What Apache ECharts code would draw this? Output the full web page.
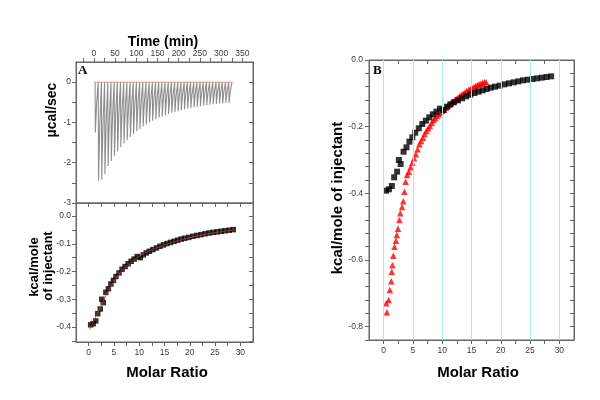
<!DOCTYPE html>
<html><head><meta charset="utf-8">
<script src="https://cdn.jsdelivr.net/npm/echarts@6/dist/echarts.min.js"></script>
<style>html,body{margin:0;padding:0;background:#fff}#c{width:600px;height:400px}</style>
</head><body><div id="c"></div>
<script>
// ---------- DATA ----------
const injectionTimes = [3,10.5,18,25.5,33,40.5,48,55.5,63,70.5,78,85.5,93,100.5,108,115.5,123,130.5,138,145.5,153,160.5,168,175.5,183,190.5,198,205.5,213,220.5,228,235.5,243,250.5,258,265.5,273,280.5,288,295.5,303,310.5,318];
const injectionPeaks = [-1.25,-2.45,-2.42,-2.28,-2.08,-1.96,-1.83,-1.72,-1.61,-1.52,-1.44,-1.36,-1.29,-1.22,-1.16,-1.1,-1.05,-1.0,-0.96,-0.92,-0.88,-0.85,-0.82,-0.79,-0.76,-0.74,-0.72,-0.7,-0.68,-0.66,-0.64,-0.62,-0.61,-0.6,-0.58,-0.57,-0.56,-0.55,-0.54,-0.53,-0.53,-0.52,-0.52];
const baselineTimes = [0, 327];
const baselineValues = [0, 0];

const molarRatio = [0.4,0.9,1.4,1.8,2.3,2.6,2.9,3.4,3.9,4.4,4.9,5.4,6.0,6.6,7.2,7.8,8.4,9.0,9.6,10.2,10.8,11.4,12.0,12.7,13.4,14.1,14.8,15.5,16.2,16.9,17.6,18.3,19.0,19.8,20.6,21.4,22.2,23.0,23.8,24.6,25.4,26.2,27.0,27.8,28.6];
const heatBlack = [-0.392,-0.388,-0.378,-0.352,-0.335,-0.300,-0.312,-0.275,-0.262,-0.245,-0.232,-0.218,-0.205,-0.192,-0.182,-0.172,-0.163,-0.155,-0.146,-0.150,-0.140,-0.133,-0.127,-0.121,-0.115,-0.109,-0.104,-0.099,-0.095,-0.091,-0.087,-0.083,-0.080,-0.077,-0.073,-0.070,-0.067,-0.064,-0.061,-0.059,-0.057,-0.055,-0.053,-0.051,-0.049];

const fitRatio = [0.2,1,2,3,4,5,6,7,8,9,10,12,14,16,18,20,22,24,26,28.6];
const fitHeat = [-0.41,-0.378,-0.342,-0.302,-0.267,-0.236,-0.209,-0.188,-0.171,-0.157,-0.145,-0.126,-0.111,-0.098,-0.087,-0.078,-0.070,-0.063,-0.057,-0.050];

const redRatio = [0.55,0.45,0.85,1.05,1.3,1.4,1.5,1.65,1.85,2.1,2.25,2.45,2.7,2.85,3.15,3.35,3.55,3.75,4.0,4.3,4.6,4.9,5.2,5.5,5.8,6.1,6.4,6.7,7.0,7.3,7.6,7.9,8.2,8.5,8.8,9.1,9.4,9.7,10.0,10.3,10.6,10.9,11.2,11.5,11.8,12.1,12.4,12.7,13.0,13.3,13.6,13.9,14.2,14.5,14.8,15.1,15.4,15.7,16.0,16.3,16.6,16.9,17.2,17.5];
const heatRed = [-0.757,-0.73,-0.72,-0.69,-0.664,-0.635,-0.616,-0.587,-0.56,-0.542,-0.525,-0.506,-0.48,-0.46,-0.441,-0.424,-0.395,-0.365,-0.345,-0.335,-0.322,-0.308,-0.295,-0.283,-0.268,-0.253,-0.243,-0.233,-0.222,-0.213,-0.205,-0.198,-0.189,-0.181,-0.175,-0.168,-0.163,-0.158,-0.153,-0.149,-0.143,-0.138,-0.134,-0.129,-0.125,-0.121,-0.117,-0.113,-0.108,-0.104,-0.101,-0.097,-0.093,-0.090,-0.087,-0.085,-0.081,-0.078,-0.076,-0.073,-0.071,-0.069,-0.066,-0.067];

// tick values / labels
const timeLabels = [0,50,100,150,200,250,300,350];
const timeTicks = [-25,0,25,50,75,100,125,150,175,200,225,250,275,300,325,350];
const ratioLabels = [0,5,10,15,20,25,30];
const ratioTicks = [0,2.5,5,7.5,10,12.5,15,17.5,20,22.5,25,27.5,30];
const rawLabels = [0,-1,-2,-3];
const rawTicks = [0,-0.5,-1,-1.5,-2,-2.5,-3];
const heatALabels = [0,-0.1,-0.2,-0.3,-0.4];
const heatATicks = [0,-0.05,-0.1,-0.15,-0.2,-0.25,-0.3,-0.35,-0.4,-0.45];
const heatBLabels = [0,-0.2,-0.4,-0.6,-0.8];
const heatBTicks = [0,-0.04,-0.08,-0.12,-0.16,-0.2,-0.24,-0.28,-0.32,-0.36,-0.4,-0.44,-0.48,-0.52,-0.56,-0.6,-0.64,-0.68,-0.72,-0.76,-0.8,-0.84];
const gridLinesB = [0,5,10,15,20,25,30];

// ---------- STYLE ----------
const PEAK_PROFILE = [[0,0],[0.6,1],[1.6,0.8],[3.5,0.45],[6,0.15],[7.4,0]];
const AX = '#666';
const LBL = {fontSize:8.5, color:'#3a3a3a', fontFamily:'Liberation Sans, Arial, sans-serif'};

const rawLine = [];
injectionTimes.forEach((t,i)=>{ PEAK_PROFILE.forEach(([dt,f])=>rawLine.push([t+dt, injectionPeaks[i]*f])); });
const zip = (a,b)=>a.map((v,i)=>[v,b[i]]);

function axis(o){
  return {
    type:'value', gridIndex:o.grid, position:o.pos, min:o.min, max:o.max,
    axisLine:{show:true, onZero:false, lineStyle:{color:AX, width:1}},
    axisTick:{show:true, inside:!!o.inside, length:4, lineStyle:{color:AX}, customValues:o.ticks},
    axisLabel:{show:!!o.labels, margin:o.margin||5, ...LBL, customValues:o.labels||[],
      formatter:o.fmt||(v=>String(v))},
    splitLine:{show:false}
  };
}
const fmt1 = v => (Math.abs(v)<1e-9 ? '0.0' : v.toFixed(1));
const TXT = (x,y,text,font,rot,align) => ({type:'text', x, y, rotation:rot||0,
  style:{text, font, fill:'#000', textAlign:align||'center', textVerticalAlign:'middle', align:align||'center', verticalAlign:'middle'}});
const SANS = '"Liberation Sans", Arial, sans-serif';
const SERIF = '"Liberation Serif", "Times New Roman", serif';

const option = {
  animation:false,
  backgroundColor:'#fff',
  grid:[
    {left:76, top:62, width:177, height:141, show:true, borderColor:AX, borderWidth:1},
    {left:76, top:203, width:177, height:139, show:true, borderColor:AX, borderWidth:1},
    {left:369, top:60, width:205, height:280, show:true, borderColor:AX, borderWidth:1}
  ],
  xAxis:[
    axis({grid:0,pos:'top',min:-42,max:375,ticks:timeTicks,labels:timeLabels,margin:4}),
    axis({grid:1,pos:'bottom',min:-2.5,max:32.5,ticks:ratioTicks,labels:ratioLabels,margin:6}),
    axis({grid:1,pos:'top',min:-2.5,max:32.5,ticks:ratioTicks,inside:true}),
    axis({grid:2,pos:'bottom',min:-2.5,max:32.5,ticks:ratioTicks,labels:ratioLabels,margin:6}),
    axis({grid:2,pos:'top',min:-2.5,max:32.5,ticks:ratioTicks,inside:true})
  ],
  yAxis:[
    axis({grid:0,pos:'left',min:-3,max:0.5,ticks:rawTicks,labels:rawLabels,margin:5}),
    axis({grid:0,pos:'right',min:-3,max:0.5,ticks:rawTicks,inside:true}),
    axis({grid:1,pos:'left',min:-0.454,max:0.047,ticks:heatATicks,labels:heatALabels,margin:5,fmt:fmt1}),
    axis({grid:1,pos:'right',min:-0.454,max:0.047,ticks:heatATicks,inside:true}),
    axis({grid:2,pos:'left',min:-0.84,max:0,ticks:heatBTicks,labels:heatBLabels,margin:6,fmt:fmt1}),
    axis({grid:2,pos:'right',min:-0.84,max:0,ticks:heatBTicks,inside:true})
  ],
  series:[
    {type:'line', xAxisIndex:0, yAxisIndex:0, data:rawLine, showSymbol:false, symbol:'none',
      lineStyle:{color:'#8e8e8e', width:1.1}, z:2},
    {type:'line', xAxisIndex:0, yAxisIndex:0, data:zip(baselineTimes, baselineValues), symbol:'none',
      lineStyle:{color:'#e59090', width:1}, z:3},
    {type:'scatter', xAxisIndex:1, yAxisIndex:2, data:zip(molarRatio, heatBlack), symbol:'rect', symbolSize:5.5,
      itemStyle:{color:'#000'}, z:2},
    {type:'line', xAxisIndex:1, yAxisIndex:2, data:zip(fitRatio, fitHeat), symbol:'none', smooth:true,
      lineStyle:{color:'#d03030', width:0.8}, z:3},
    {type:'scatter', xAxisIndex:3, yAxisIndex:4, data:[], z:1, silent:true,
      markLine:{silent:true, symbol:['none','none'], label:{show:false},
        lineStyle:{color:'#a6e9ee', width:1, type:'solid'},
        data:gridLinesB.map(v=>({xAxis:v}))}},
    {type:'scatter', xAxisIndex:3, yAxisIndex:4, data:zip(redRatio, heatRed), symbol:'triangle', symbolSize:6.5,
      itemStyle:{color:'#ff0000'}, z:2},
    {type:'scatter', xAxisIndex:3, yAxisIndex:4, data:zip(molarRatio, heatBlack), symbol:'rect', symbolSize:6,
      itemStyle:{color:'#000'}, z:3}
  ],
  graphic:[
    TXT(163,42,'Time (min)','bold 14px '+SANS),
    TXT(167,373,'Molar Ratio','bold 15px '+SANS),
    TXT(478,373,'Molar Ratio','bold 15px '+SANS),
    TXT(52,110,'µcal/sec','bold 14px '+SANS,Math.PI/2),
    TXT(34,267,'kcal/mole','bold 13px '+SANS,Math.PI/2),
    TXT(48,266,'of injectant','bold 13px '+SANS,Math.PI/2),
    TXT(338,198,'kcal/mole of injectant','bold 15px '+SANS,Math.PI/2),
    TXT(78,71,'A','bold 13px '+SERIF,0,'left'),
    TXT(373,71,'B','bold 13px '+SERIF,0,'left')
  ]
};
const chart = echarts.init(document.getElementById('c'), null, {renderer:'canvas'});
chart.setOption(option);
</script>
</body></html>
